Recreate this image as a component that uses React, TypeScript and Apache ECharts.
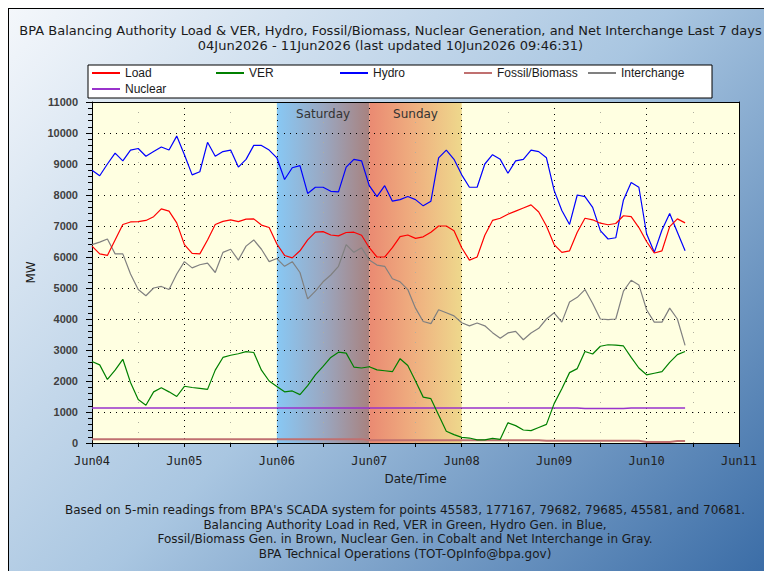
import React, { useEffect, useRef } from "react";
import * as echarts from "echarts";

const TITLE_LINES = [
  "BPA Balancing Authority Load & VER, Hydro, Fossil/Biomass, Nuclear Generation, and Net Interchange Last 7 days",
  "04Jun2026 - 11Jun2026 (last updated 10Jun2026 09:46:31)",
];
const FOOTER_LINES = [
  "Based on 5-min readings from BPA's SCADA system for points 45583, 177167, 79682, 79685, 45581, and 70681.",
  "Balancing Authority Load in Red, VER in Green, Hydro Gen. in Blue,",
  "Fossil/Biomass Gen. in Brown, Nuclear Gen. in Cobalt and Net Interchange in Gray.",
  "BPA Technical Operations (TOT-OpInfo@bpa.gov)",
];
const DAY_LABELS = ["Jun04", "Jun05", "Jun06", "Jun07", "Jun08", "Jun09", "Jun10", "Jun11"];
const Y_TICKS = [0, 1000, 2000, 3000, 4000, 5000, 6000, 7000, 8000, 9000, 10000, 11000];
const STEP_HOURS = 2; // one reading every 2 hours from Jun04 00:00

const LOAD = [
  6350, 6100, 6050, 6550, 7050, 7130, 7140, 7180, 7300, 7550, 7480, 7100,
  6400, 6120, 6100, 6550, 7050, 7150, 7200, 7140, 7220, 7230, 7030, 6950,
  6420, 6050, 5970, 6200, 6550, 6800, 6820, 6710, 6680, 6790, 6800, 6700,
  6300, 6000, 6000, 6300, 6660, 6710, 6600, 6650, 6800, 7000, 7000, 6850,
  6300, 5900, 6000, 6700, 7180, 7250, 7380, 7480, 7580, 7680, 7450, 7000,
  6400, 6150, 6200, 6800, 7250, 7200, 7090, 7040, 7080, 7330, 7300, 6950,
  6500, 6130, 6200, 6980, 7230, 7100,
];
const VER = [
  2630, 2520, 2050, 2350, 2700, 1950, 1400, 1220, 1650, 1780, 1650, 1500,
  1830, 1790, 1760, 1730, 2350, 2760, 2830, 2880, 2950, 2920, 2350, 2000,
  1820, 1650, 1680, 1560, 1850, 2200, 2470, 2760, 2930, 2900, 2450, 2420,
  2460, 2360, 2330, 2300, 2720, 2500, 2000, 1480, 1430, 900, 380, 270,
  180, 160, 100, 100, 150, 120, 650, 560, 420, 400, 500, 600,
  1270, 1750, 2270, 2400, 2950, 2870, 3120, 3170, 3160, 3130, 2760, 2420,
  2200, 2250, 2300, 2600, 2850, 2950,
];
const HYDRO = [
  8800, 8620, 9000, 9350, 9100, 9450, 9500, 9250, 9400, 9550, 9450, 9900,
  9300, 8650, 8750, 9700, 9250, 9400, 9450, 8900, 9150, 9600, 9600, 9450,
  9200, 8500, 8880, 8950, 8050, 8250, 8250, 8120, 8100, 8900, 9150, 9100,
  8300, 7950, 8300, 7800, 7850, 7950, 7850, 7650, 7800, 9200, 9450, 9150,
  8650, 8250, 8250, 9000, 9300, 9150, 8700, 9100, 9150, 9450, 9400, 9200,
  8150, 7500, 7050, 8000, 7950, 7600, 6850, 6580, 6620, 7840, 8400, 8250,
  6750, 6150, 6870, 7400, 6800, 6200,
];
const FOSSIL = [
  125, 125, 125, 125, 125, 125, 125, 125, 125, 125, 125, 125,
  125, 125, 125, 125, 125, 125, 125, 125, 125, 125, 125, 125,
  125, 125, 125, 125, 125, 125, 125, 125, 125, 125, 125, 125,
  90, 90, 90, 90, 90, 90, 90, 90, 90, 90, 90, 90,
  90, 90, 90, 90, 90, 90, 90, 90, 90, 90, 90, 70,
  70, 70, 70, 70, 70, 70, 70, 70, 70, 70, 70, 70,
  35, 35, 35, 35, 65, 65,
];
const INTERCHANGE = [
  6400, 6480, 6580, 6100, 6100, 5450, 4950, 4750, 5000, 5050, 4950, 5450,
  5850, 5650, 5750, 5800, 5500, 6150, 6250, 5900, 6350, 6550, 6250, 5850,
  5950, 5700, 5850, 5500, 4650, 4900, 5200, 5420, 5700, 6400, 6150, 6300,
  5900, 5740, 5700, 5300, 5200, 4950, 4350, 3920, 3850, 4300, 4200, 4100,
  3880, 3780, 3870, 3780, 3560, 3380, 3550, 3600, 3330, 3550, 3700, 4000,
  4200, 3900, 4550, 4700, 4950, 4500, 4000, 3980, 4000, 4900, 5250, 5100,
  4300, 3900, 3900, 4350, 4000, 3150,
];
const NUCLEAR = [
  1130, 1130, 1130, 1130, 1130, 1130, 1130, 1130, 1130, 1130, 1130, 1130,
  1130, 1130, 1130, 1130, 1130, 1130, 1130, 1130, 1130, 1130, 1130, 1130,
  1130, 1130, 1130, 1130, 1130, 1130, 1130, 1130, 1130, 1130, 1130, 1130,
  1130, 1130, 1130, 1130, 1130, 1130, 1130, 1130, 1130, 1130, 1130, 1130,
  1130, 1130, 1130, 1130, 1130, 1130, 1130, 1130, 1130, 1130, 1130, 1130,
  1130, 1130, 1130, 1130, 1110, 1110, 1110, 1110, 1110, 1110, 1130, 1130,
  1130, 1130, 1130, 1130, 1130, 1130,
];
const WEEKEND_START = [48, 72];
const WEEKEND_END = [72, 96];
const WEEKEND_NAMES = ["Saturday", "Sunday"];

const FONT = '"Liberation Sans", Arial, sans-serif';
const WIDE_FONT = '"DejaVu Sans", Verdana, sans-serif';

function pairs(vals: number[]) {
  return vals.map((v, i) => [i * STEP_HOURS, v]);
}

export default function App() {
  const ref = useRef<HTMLDivElement>(null);
  useEffect(() => {
    if (!ref.current) return;
    const chart = echarts.init(ref.current, undefined, { renderer: "svg" });
    const bandFills = [
      new echarts.graphic.LinearGradient(0, 0, 1, 0, [
        { offset: 0, color: "#88c8f4" },
        { offset: 0.5, color: "#9aa8c2" },
        { offset: 1, color: "#a8827f" },
      ]),
      new echarts.graphic.LinearGradient(0, 0, 1, 0, [
        { offset: 0, color: "#ea8a72" },
        { offset: 0.5, color: "#efb080" },
        { offset: 1, color: "#eed88c" },
      ]),
    ];
    const lineSeries = (name: string, data: number[], color: string, width: number) => ({
      name,
      type: "line",
      data: pairs(data),
      color,
      showSymbol: false,
      symbol: "none",
      lineStyle: { color, width },
      z: 2,
    });
    const option: any = {
      animation: false,
      backgroundColor: "transparent",
      title: {
        text: TITLE_LINES.join("\n"),
        left: "center",
        top: 14,
        padding: 0,
        textStyle: { fontSize: 13, fontWeight: "normal", fontFamily: WIDE_FONT, color: "#1a1a1a", lineHeight: 15 },
      },
      legend: {
        data: ["Load", "VER", "Hydro", "Fossil/Biomass", "Interchange", "Nuclear"],
        left: 79,
        top: 56,
        width: 640,
        padding: [0, 0, 1, 4],
        itemGap: 0,
        itemWidth: 28,
        itemHeight: 2,
        icon: "rect",
        backgroundColor: "#ffffff",
        borderColor: "#000000",
        borderWidth: 1,
        borderRadius: 0,
        textStyle: { fontSize: 12, fontFamily: FONT, color: "#1a1a1a", width: 91, lineHeight: 16 },
      },
      grid: {
        left: 83,
        top: 93,
        width: 647,
        height: 341,
        show: true,
        backgroundColor: "#ffffe1",
        borderWidth: 0,
      },
      xAxis: [
        {
          type: "value",
          min: 0,
          max: 168,
          interval: 24,
          z: 1.5,
          name: "Date/Time",
          nameLocation: "middle",
          nameGap: 30,
          nameTextStyle: { fontSize: 12, fontFamily: WIDE_FONT, color: "#1a1a1a" },
          axisLine: { show: true, onZero: false, lineStyle: { color: "#000", width: 1 } },
          axisTick: { show: true, length: 4, lineStyle: { color: "#000" } },
          minorTick: { show: true, splitNumber: 2, length: 4, lineStyle: { color: "#000" } },
          axisLabel: {
            margin: 12,
            fontSize: 12,
            fontFamily: '"DejaVu Sans Mono", monospace',
            color: "#222",
            formatter: (v: number) => DAY_LABELS[Math.round(v / 24)] ?? "",
          },
          splitLine: { show: true, lineStyle: { color: "#000", width: 1, type: [1, 5] } },
          minorSplitLine: { show: true, lineStyle: { color: "#b0b0a0", width: 1, type: [1, 9] } },
        },
        {
          type: "value",
          min: 0,
          max: 168,
          position: "top",
          z: 3,
          axisLine: { show: true, onZero: false, lineStyle: { color: "#000", width: 1 } },
          axisTick: { show: false },
          axisLabel: { show: false },
          splitLine: { show: false },
        },
      ],
      yAxis: [
        {
          type: "value",
          min: Y_TICKS[0],
          max: Y_TICKS[Y_TICKS.length - 1],
          interval: 1000,
          z: 1.5,
          name: "MW",
          nameLocation: "middle",
          nameRotate: 90,
          nameGap: 53,
          nameTextStyle: { fontSize: 12, fontFamily: WIDE_FONT, color: "#1a1a1a" },
          axisLine: { show: true, onZero: false, lineStyle: { color: "#000", width: 1 } },
          axisTick: { show: true, length: 6, lineStyle: { color: "#000" } },
          minorTick: { show: true, splitNumber: 5, length: 4, lineStyle: { color: "#000" } },
          axisLabel: {
            margin: 14,
            fontSize: 11,
            fontWeight: "bold",
            fontFamily: FONT,
            color: "#404040",
            formatter: (v: number) => String(v),
          },
          splitLine: { show: true, lineStyle: { color: "#000", width: 1, type: [1, 5] } },
          minorSplitLine: { show: false },
        },
        {
          type: "value",
          min: Y_TICKS[0],
          max: Y_TICKS[Y_TICKS.length - 1],
          position: "right",
          z: 3,
          axisLine: { show: true, onZero: false, lineStyle: { color: "#000", width: 1 } },
          axisTick: { show: false },
          axisLabel: { show: false },
          splitLine: { show: false },
        },
      ],
      series: [
        {
          type: "custom",
          name: "weekend",
          coordinateSystem: "cartesian2d",
          xAxisIndex: 0,
          yAxisIndex: 0,
          z: 1,
          silent: true,
          encode: { x: [0, 1] },
          data: WEEKEND_START.map((s, i) => [s, WEEKEND_END[i], i]),
          renderItem: (params: any, api: any) => {
            const idx = api.value(2);
            const p0 = api.coord([api.value(0), Y_TICKS[Y_TICKS.length - 1]]);
            const p1 = api.coord([api.value(1), Y_TICKS[0]]);
            return {
              type: "group",
              children: [
                {
                  type: "rect",
                  shape: { x: p0[0], y: p0[1], width: p1[0] - p0[0], height: p1[1] - p0[1] },
                  style: { fill: bandFills[idx] },
                },
                {
                  type: "text",
                  x: (p0[0] + p1[0]) / 2,
                  y: p0[1] + 6,
                  style: {
                    text: WEEKEND_NAMES[idx],
                    align: "center",
                    verticalAlign: "top",
                    font: `12px ${WIDE_FONT}`,
                    fill: "#333",
                  },
                },
              ],
            };
          },
        },
        lineSeries("Nuclear", NUCLEAR, "#9933cc", 1.5),
        lineSeries("Fossil/Biomass", FOSSIL, "#c07070", 2),
        lineSeries("Interchange", INTERCHANGE, "#808080", 1.2),
        lineSeries("VER", VER, "#008000", 1.2),
        lineSeries("Hydro", HYDRO, "#0000ff", 1.2),
        lineSeries("Load", LOAD, "#ff0000", 1.2),
      ],
      graphic: [
        {
          type: "text",
          x: 396,
          y: 494,
          silent: true,
          style: {
            text: FOOTER_LINES.join("\n"),
            align: "center",
            verticalAlign: "top",
            font: `12px ${WIDE_FONT}`,
            lineHeight: 14.5,
            fill: "#1a1a1a",
          },
        },
      ],
    };
    chart.setOption(option);
    return () => chart.dispose();
  }, []);

  return (
    <div
      style={{
        width: 764,
        height: 563,
        boxSizing: "border-box",
        borderLeft: "1px solid #000",
        borderTop: "1px solid #000",
        background: "linear-gradient(135deg, #f4f7fb 0%, #a9c6e1 50%, #3a6ca6 100%)",
        overflow: "hidden",
      }}
    >
      <div ref={ref} style={{ width: 763, height: 562 }} />
    </div>
  );
}
